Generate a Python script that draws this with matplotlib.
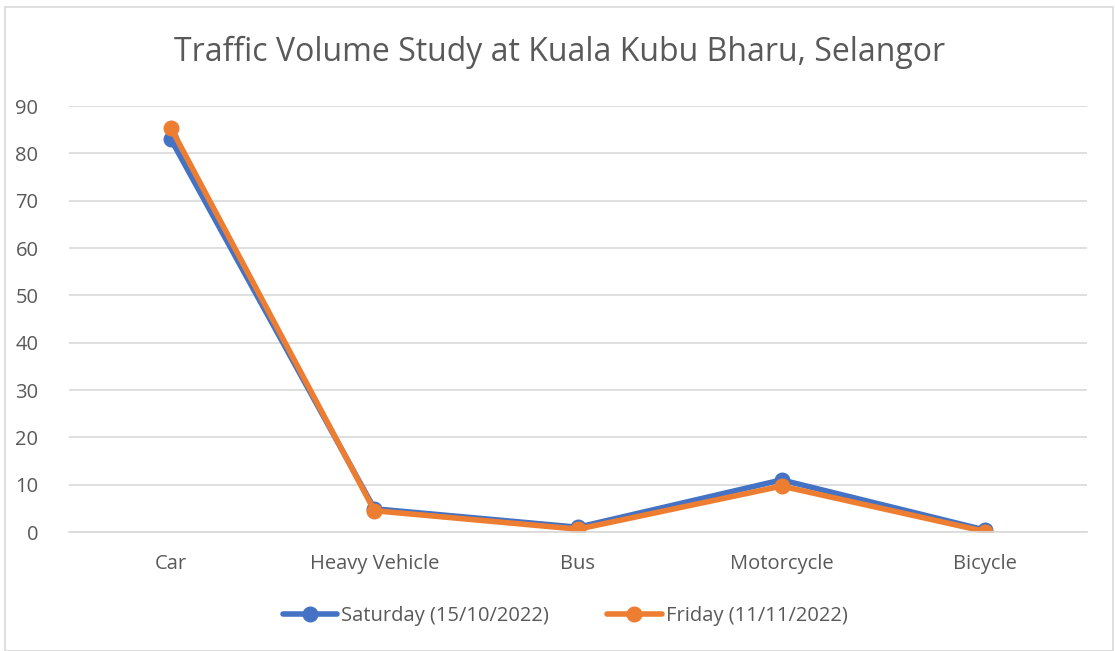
import matplotlib
matplotlib.use("Agg")
import matplotlib.pyplot as plt
from matplotlib.patches import Rectangle

categories = ["Car", "Heavy Vehicle", "Bus", "Motorcycle", "Bicycle"]
saturday = [83.0, 4.9, 1.0, 11.0, 0.4]
friday = [85.4, 4.5, 0.6, 9.7, 0.1]
series_labels = ["Saturday (15/10/2022)", "Friday (11/11/2022)"]
yticks = [0, 10, 20, 30, 40, 50, 60, 70, 80, 90]

plt.rcParams['font.family'] = ['Open Sans', 'DejaVu Sans']

fig = plt.figure(figsize=(11.15, 6.51), dpi=100)
W, H = 1115, 651
ax = fig.add_axes([69 / W, 1 - 532 / H, (1087 - 69) / W, (532 - 106) / H])

x = list(range(len(categories)))
ax.plot(x, saturday, color="#4472C4", lw=4.0, marker="o", ms=10.5, label=series_labels[0],
        solid_capstyle="round")
ax.plot(x, friday, color="#ED7D31", lw=4.0, marker="o", ms=10.5, label=series_labels[1],
        solid_capstyle="round")

ax.set_xlim(-0.5, len(categories) - 0.5)
ax.set_ylim(0, 90)
ax.set_yticks(yticks)
ax.set_xticks(x)
ax.set_xticklabels(categories)
ax.grid(axis="y", color="#D9D9D9", lw=1.2)
ax.set_axisbelow(True)
for s in ["top", "right", "left"]:
    ax.spines[s].set_visible(False)
ax.spines["bottom"].set_color("#D9D9D9")
ax.spines["bottom"].set_linewidth(1.2)
ax.tick_params(axis="both", length=0, labelsize=14.5, colors="#595959")
ax.tick_params(axis="x", pad=16)
ax.tick_params(axis="y", pad=22)
for lab in ax.get_yticklabels():
    lab.set_horizontalalignment("right")

fig.text(560 / W, 1 - 52 / H, "Traffic Volume Study at Kuala Kubu Bharu, Selangor",
         ha="center", va="center", fontsize=23, color="#595959")

leg = fig.legend(loc="center", bbox_to_anchor=(565 / W, 1 - 616 / H), ncol=2, frameon=False,
                 fontsize=14.5, labelcolor="#595959", handlelength=2.7, handletextpad=0.2,
                 columnspacing=2.9)

fig.patches.append(Rectangle((5 / W, 0), (1113 - 5) / W, 1 - 7 / H, transform=fig.transFigure,
                             fill=False, edgecolor="#D9D9D9", lw=1.2))

fig.savefig("out.png", dpi=100)
